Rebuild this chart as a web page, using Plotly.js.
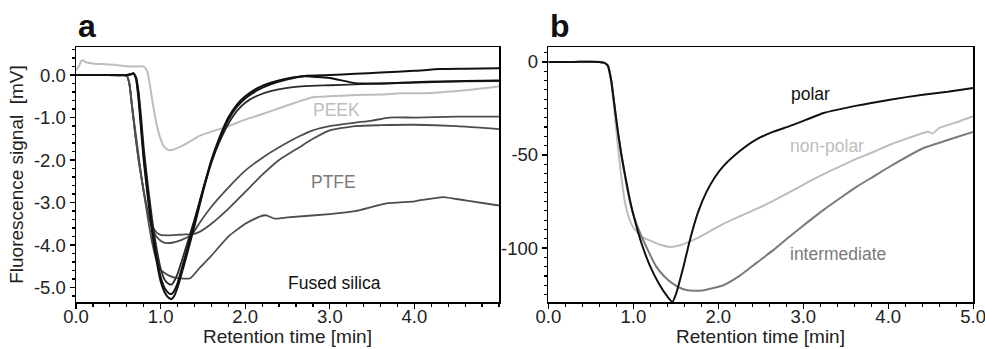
<!DOCTYPE html>
<html><head><meta charset="utf-8">
<script src="https://cdn.plot.ly/plotly-3.0.1.min.js"></script>
<style>html,body{margin:0;padding:0;background:#fff}#chart{width:985px;height:349px}</style>
</head><body><div id="chart"></div>
<script>
// ---- Panel a data (fluorescence signal, mV) ----
const peekT = [0,0.03,0.07,0.12,0.2,0.3,0.45,0.6,0.7,0.8,0.84,0.87,0.91,0.95,0.99,1.03,1.07,1.11,1.18,1.27,1.46,1.6,1.78,2.0,2.17,2.4,2.64,2.8,3.0,3.3,3.6,3.83,4.2,4.6,5.0];
const peekV = [0.12,0.2,0.35,0.3,0.27,0.26,0.24,0.21,0.2,0.2,0.1,-0.2,-0.7,-1.14,-1.45,-1.65,-1.74,-1.77,-1.73,-1.65,-1.43,-1.33,-1.22,-1.05,-0.94,-0.78,-0.62,-0.52,-0.5,-0.47,-0.46,-0.43,-0.42,-0.36,-0.27];

const silicaT = [0,0.3,0.6,0.65,0.68,0.71,0.74,0.77,0.8,0.85,0.9,0.95,1.0,1.05,1.1,1.13,1.16,1.2,1.3,1.4,1.5,1.6,1.7,1.8,1.9,2.0,2.15,2.3,2.5,2.7,3.0,3.3,3.6,4.0,4.3,4.6,5.0];
const silica1V = [0,0,0,0.02,0.04,-0.1,-0.6,-1.3,-2.0,-2.9,-3.7,-4.35,-4.85,-5.12,-5.25,-5.27,-5.2,-5.0,-4.3,-3.55,-2.75,-2.05,-1.5,-1.05,-0.75,-0.55,-0.35,-0.22,-0.1,-0.02,0.0,0.03,0.06,0.1,0.14,0.15,0.16];
const silica2V = [0,0,0,0.02,0.04,-0.08,-0.5,-1.2,-1.9,-2.8,-3.6,-4.25,-4.75,-5.02,-5.14,-5.15,-5.08,-4.9,-4.2,-3.45,-2.7,-2.0,-1.45,-1.0,-0.7,-0.5,-0.3,-0.18,-0.08,-0.03,-0.07,-0.19,-0.2,-0.17,-0.15,-0.14,-0.13];
const silica3V = [0,0,0,0.02,0.03,-0.05,-0.4,-1.0,-1.7,-2.6,-3.4,-4.05,-4.55,-4.82,-4.92,-4.93,-4.85,-4.68,-4.05,-3.4,-2.7,-2.05,-1.55,-1.15,-0.85,-0.65,-0.48,-0.38,-0.3,-0.26,-0.24,-0.22,-0.2,-0.18,-0.16,-0.15,-0.14];

const ptfe1T = [0,0.3,0.55,0.6,0.63,0.66,0.7,0.74,0.78,0.82,0.86,0.9,0.95,1.0,1.1,1.2,1.3,1.37,1.46,1.6,1.8,2.0,2.2,2.4,2.64,2.8,3.0,3.3,3.6,4.0,4.5,5.0];
const ptfe1V = [0,0,0,-0.02,-0.2,-0.7,-1.4,-2.0,-2.5,-2.95,-3.3,-3.55,-3.7,-3.76,-3.77,-3.76,-3.75,-3.75,-3.69,-3.5,-3.15,-2.75,-2.35,-2.0,-1.7,-1.5,-1.3,-1.2,-1.18,-1.17,-1.2,-1.27];
const ptfe2T = [0,0.3,0.55,0.6,0.63,0.66,0.7,0.74,0.78,0.82,0.86,0.9,0.95,1.0,1.05,1.15,1.25,1.37,1.46,1.6,1.8,2.0,2.2,2.4,2.64,2.8,3.0,3.3,3.5,3.7,4.0,4.5,5.0];
const ptfe2V = [0,0,0,-0.02,-0.2,-0.7,-1.4,-2.0,-2.5,-2.95,-3.35,-3.6,-3.8,-3.9,-3.95,-3.94,-3.88,-3.75,-3.48,-3.1,-2.65,-2.25,-1.95,-1.7,-1.44,-1.3,-1.2,-1.12,-1.07,-1.0,-1.0,-0.98,-0.98];
const ptfe3T = [0,0.3,0.55,0.6,0.63,0.66,0.7,0.74,0.78,0.82,0.86,0.9,0.95,1.0,1.1,1.2,1.35,1.46,1.6,1.8,2.0,2.17,2.25,2.35,2.5,3.0,3.3,3.67,4.0,4.34,4.6,5.0];
const ptfe3V = [0,0,0,-0.02,-0.2,-0.7,-1.3,-1.9,-2.5,-3.0,-3.5,-3.95,-4.35,-4.58,-4.72,-4.78,-4.78,-4.54,-4.25,-3.8,-3.5,-3.33,-3.3,-3.38,-3.35,-3.27,-3.2,-3.02,-2.97,-2.87,-2.95,-3.07];

// ---- Panel b data ----
const polarT = [0,0.3,0.6,0.66,0.7,0.74,0.78,0.82,0.86,0.9,0.95,1.0,1.1,1.2,1.3,1.4,1.46,1.5,1.59,1.67,1.76,1.86,1.96,2.06,2.25,2.45,2.65,2.84,3.04,3.24,3.63,4.02,4.41,4.7,5.0];
const polarV = [0,0,0,-0.5,-2,-10,-24,-38,-50,-60,-72,-82,-98,-110,-119,-126,-129,-125,-110,-95,-81,-70,-62,-56,-48,-41.6,-37.5,-34.5,-31,-27.5,-23.5,-20.3,-17.6,-16,-14];
const nonpolarT = [0,0.3,0.6,0.66,0.7,0.74,0.78,0.82,0.86,0.9,0.95,1.0,1.1,1.2,1.3,1.43,1.55,1.74,1.9,2.06,2.25,2.45,2.65,2.84,3.04,3.24,3.44,3.63,3.83,4.02,4.2,4.41,4.47,4.52,4.6,4.8,5.0];
const nonpolarV = [0,0,0,-0.5,-2,-11,-28,-46,-62,-75,-84,-89,-94,-96,-98,-99.4,-98.5,-95,-91,-87,-83,-79,-74.5,-70,-65,-60.3,-56,-52,-48.3,-44.5,-41.5,-38.2,-37.5,-38.5,-35.5,-32.5,-29.2];
const interT = [0,0.3,0.6,0.66,0.7,0.74,0.78,0.82,0.86,0.9,0.95,1.0,1.08,1.17,1.27,1.36,1.46,1.58,1.706,1.85,2.06,2.25,2.45,2.65,2.84,3.04,3.24,3.44,3.63,3.83,4.02,4.41,4.7,5.0];
const interV = [0,0,0,-0.5,-2,-10,-24,-38,-50,-61,-73,-82,-92,-101,-110,-115,-119,-122,-123,-122.5,-120,-115,-108,-101,-93.8,-86.5,-79.5,-73,-67,-61.5,-56.2,-46.4,-42,-37.6];

// ---- Tick labels ----
const aXTicks = [0,1,2,3,4];
const aXText = ["0.0","1.0","2.0","3.0","4.0"];
const aYTicks = [0,-1,-2,-3,-4,-5];
const aYText = ["0.0","-1.0","-2.0","-3.0","-4.0","-5.0"];
const bXTicks = [0,1,2,3,4,5];
const bXText = ["0.0","1.0","2.0","3.0","4.0","5.0"];
const bYTicks = [0,-50,-100];
const bYText = ["0","-50","-100"];

const FONT = "Liberation Sans, Arial, Helvetica, sans-serif";
const BLACK = "#111111", DARK = "#4d4d4d", LIGHT = "#bdbdbd", MID = "#7a7a7a";

function tr(x, y, color, w, xa, ya) {
  return {x: x, y: y, type: "scatter", mode: "lines", line: {color: color, width: w, shape: "spline", smoothing: 0.5},
          xaxis: xa, yaxis: ya, hoverinfo: "skip", showlegend: false};
}

const data = [
  tr(peekT, peekV, LIGHT, 2, "x", "y"),
  tr(ptfe3T, ptfe3V, DARK, 1.8, "x", "y"),
  tr(ptfe1T, ptfe1V, DARK, 1.8, "x", "y"),
  tr(ptfe2T, ptfe2V, DARK, 1.8, "x", "y"),
  tr(silicaT, silica3V, "#2a2a2a", 1.8, "x", "y"),
  tr(silicaT, silica2V, BLACK, 2, "x", "y"),
  tr(silicaT, silica1V, BLACK, 2, "x", "y"),
  tr(nonpolarT, nonpolarV, LIGHT, 2, "x2", "y2"),
  tr(interT, interV, MID, 2, "x2", "y2"),
  tr(polarT, polarV, BLACK, 2, "x2", "y2")
];

const TICKFONT = {family: FONT, size: 18.5, color: "#222"};
const TITLEFONT = {family: FONT, size: 19, color: "#222"};
const axisCommon = {
  showgrid: false, zeroline: false, showline: true, linecolor: "#000", linewidth: 1.5, mirror: true,
  ticks: "outside", ticklen: 5, tickwidth: 1.3, tickcolor: "#000",
  tickfont: TICKFONT, fixedrange: true, ticklabeloverflow: "allow"
};
const minorX = {dtick: 0.2, tick0: 0, ticks: "outside", ticklen: 3, tickwidth: 1.2, tickcolor: "#000"};

const XTITLE_Y = -0.134;

const layout = {
  width: 985, height: 349,
  margin: {l: 0, r: 0, t: 47, b: 47},
  paper_bgcolor: "#fff", plot_bgcolor: "#fff",
  font: {family: FONT, color: "#222"},
  xaxis: Object.assign({}, axisCommon, {domain: [0.0772, 0.5066], range: [0, 5], anchor: "y",
    tickvals: aXTicks, ticktext: aXText, minor: minorX, ticklabelstandoff: -8}),
  yaxis: Object.assign({}, axisCommon, {domain: [0, 1], range: [-5.34, 0.66], anchor: "x",
    tickvals: aYTicks, ticktext: aYText,
    minor: {dtick: 0.2, tick0: 0, ticks: "outside", ticklen: 3, tickwidth: 1.2, tickcolor: "#000"},
    title: {text: "Fluorescence signal  [mV]", font: TITLEFONT, standoff: 5}}),
  xaxis2: Object.assign({}, axisCommon, {domain: [0.5567, 0.9881], range: [0, 5.001], anchor: "y2",
    tickvals: bXTicks, ticktext: bXText, minor: minorX, ticklabelstandoff: -8}),
  yaxis2: Object.assign({}, axisCommon, {domain: [0, 1], range: [-129, 8], anchor: "x2",
    tickvals: bYTicks, ticktext: bYText,
    minor: {dtick: 5, tick0: 0, ticks: "outside", ticklen: 3, tickwidth: 1.2, tickcolor: "#000"}}),
  annotations: [
    {text: "Retention time [min]", xref: "paper", yref: "paper", x: (0.0772 + 0.5066) / 2, y: XTITLE_Y,
     xanchor: "center", yanchor: "middle", showarrow: false, font: TITLEFONT},
    {text: "Retention time [min]", xref: "paper", yref: "paper", x: (0.5567 + 0.9881) / 2, y: XTITLE_Y,
     xanchor: "center", yanchor: "middle", showarrow: false, font: TITLEFONT},
    {text: "<b>a</b>", xref: "paper", yref: "paper", x: 0.0772, y: 1.005, xanchor: "left", yanchor: "bottom",
     showarrow: false, font: {family: FONT, size: 32, color: "#111"}},
    {text: "<b>b</b>", xref: "paper", yref: "paper", x: 0.5567, y: 1.005, xanchor: "left", yanchor: "bottom",
     showarrow: false, font: {family: FONT, size: 32, color: "#111"}},
    {text: "PEEK", xref: "x", yref: "y", x: 3.08, y: -0.82, showarrow: false,
     font: {family: FONT, size: 17.5, color: LIGHT}},
    {text: "PTFE", xref: "x", yref: "y", x: 3.04, y: -2.51, showarrow: false,
     font: {family: FONT, size: 17.5, color: MID}},
    {text: "Fused silica", xref: "x", yref: "y", x: 3.06, y: -4.9, showarrow: false,
     font: {family: FONT, size: 17.5, color: "#111"}},
    {text: "polar", xref: "x2", yref: "y2", x: 3.08, y: -17.2, showarrow: false,
     font: {family: FONT, size: 17.5, color: "#111"}},
    {text: "non-polar", xref: "x2", yref: "y2", x: 3.28, y: -45.4, showarrow: false,
     font: {family: FONT, size: 17.5, color: LIGHT}},
    {text: "intermediate", xref: "x2", yref: "y2", x: 3.41, y: -103, showarrow: false,
     font: {family: FONT, size: 17.5, color: MID}}
  ]
};

Plotly.newPlot("chart", data, layout, {staticPlot: true, displayModeBar: false});
</script></body></html>
